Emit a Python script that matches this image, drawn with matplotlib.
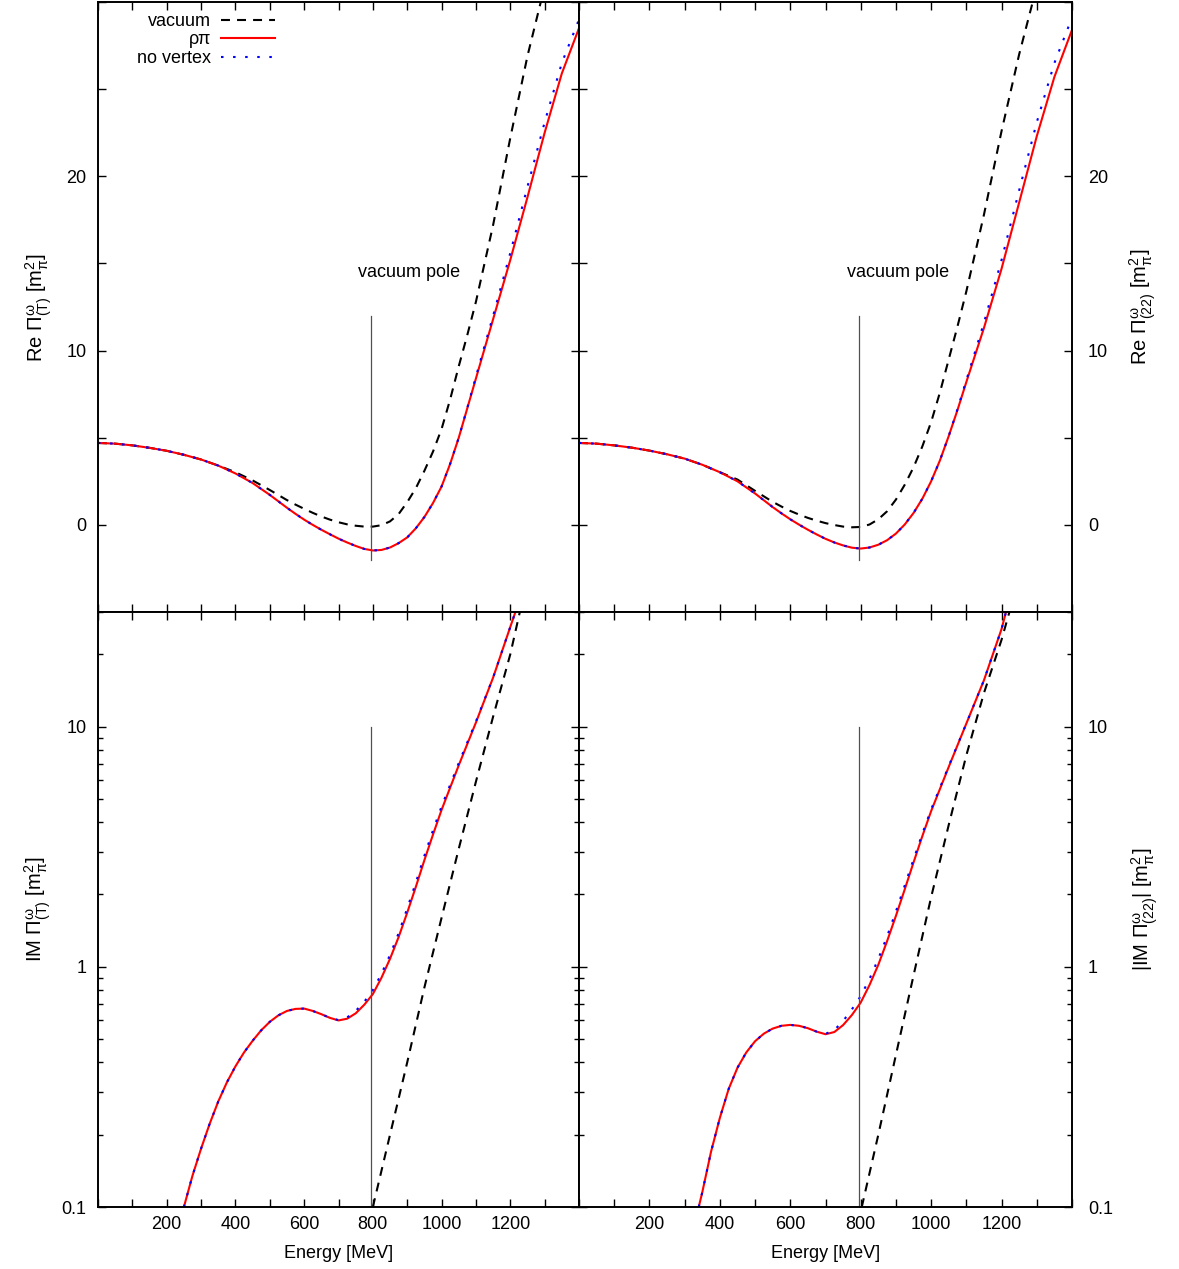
import matplotlib
matplotlib.use("Agg")
import matplotlib.pyplot as plt
from matplotlib.ticker import FixedLocator, MultipleLocator, LogLocator, NullFormatter

plt.rcParams['font.family'] = ['Liberation Sans', 'DejaVu Sans']
plt.rcParams['mathtext.fontset'] = 'custom'
plt.rcParams['mathtext.rm'] = 'Liberation Sans'
plt.rcParams['mathtext.it'] = 'Liberation Sans'
plt.rcParams['mathtext.sf'] = 'Liberation Sans'

# ---- data (energy in MeV, Pi in m_pi^2) ----
E_re = [0, 50, 100, 150, 200, 250, 300, 350, 400, 450, 500, 550, 575, 600, 625, 650, 675, 700,
        725, 750, 775, 800, 825, 850, 875, 900, 925, 950, 975, 1000, 1025, 1050, 1075, 1100,
        1150, 1200, 1250, 1300, 1350, 1400]
E_re_vac = E_re[:38]

reT_rhopi = [4.70, 4.66, 4.56, 4.42, 4.25, 4.02, 3.75, 3.40, 2.95, 2.40, 1.72, 0.98, 0.63, 0.30, 0.00, -0.28, -0.54, -0.79,
             -1.01, -1.21, -1.38, -1.47, -1.44, -1.30, -1.05, -0.72, -0.20, 0.45, 1.25, 2.20, 3.50, 5.00, 6.70, 8.40,
             11.80, 15.20, 18.80, 22.50, 25.90, 28.50]
reT_novtx = [4.70, 4.66, 4.56, 4.42, 4.25, 4.02, 3.75, 3.40, 2.95, 2.40, 1.72, 0.98, 0.63, 0.30, 0.00, -0.28, -0.54, -0.79,
             -1.01, -1.21, -1.38, -1.47, -1.44, -1.30, -1.05, -0.72, -0.20, 0.45, 1.25, 2.20, 3.50, 5.00, 6.72, 8.50,
             12.00, 15.60, 19.40, 23.10, 26.50, 29.00]
reT_vac = [4.70, 4.66, 4.56, 4.42, 4.25, 4.02, 3.75, 3.40, 3.02, 2.55, 2.00, 1.42, 1.16, 0.92, 0.69, 0.48, 0.30, 0.15,
           0.03, -0.05, -0.10, -0.10, -0.02, 0.20, 0.62, 1.30, 2.10, 3.10, 4.20, 5.50, 7.20, 9.10, 10.90, 12.80,
           17.20, 22.20, 26.90, 30.90]

re22_rhopi = [4.70, 4.66, 4.56, 4.43, 4.26, 4.05, 3.80, 3.45, 3.02, 2.50, 1.80, 1.02, 0.66, 0.32, 0.01, -0.28, -0.55, -0.80,
              -1.01, -1.18, -1.31, -1.36, -1.30, -1.14, -0.88, -0.50, 0.02, 0.68, 1.50, 2.50, 3.70, 5.10, 6.60, 8.20,
              11.30, 14.70, 18.50, 22.30, 25.70, 28.40]
re22_novtx = [4.70, 4.66, 4.56, 4.43, 4.26, 4.05, 3.80, 3.45, 3.02, 2.50, 1.80, 1.02, 0.66, 0.32, 0.01, -0.28, -0.55, -0.80,
              -1.01, -1.18, -1.31, -1.36, -1.30, -1.14, -0.88, -0.50, 0.02, 0.68, 1.50, 2.50, 3.70, 5.10, 6.65, 8.30,
              11.60, 15.20, 19.20, 23.10, 26.50, 29.10]
re22_vac = [4.70, 4.66, 4.56, 4.43, 4.26, 4.05, 3.80, 3.45, 3.02, 2.60, 1.95, 1.32, 1.05, 0.80, 0.59, 0.40, 0.24, 0.10,
            -0.01, -0.10, -0.14, -0.12, 0.02, 0.32, 0.78, 1.45, 2.30, 3.30, 4.50, 5.90, 7.60, 9.50, 11.40, 13.40,
            17.80, 22.60, 27.00, 30.90]

E_imT = [250, 275, 300, 325, 350, 375, 400, 425, 450, 475, 500, 525, 550, 575, 600, 625, 650, 675, 700, 725, 750, 775,
         800, 825, 850, 875, 900, 925, 950, 975, 1000, 1050, 1100, 1150, 1200, 1220]
imT_rhopi = [0.100, 0.135, 0.175, 0.222, 0.275, 0.330, 0.385, 0.440, 0.492, 0.544, 0.590, 0.628, 0.655, 0.668, 0.670,
             0.655, 0.635, 0.613, 0.598, 0.608, 0.640, 0.695, 0.770, 0.900, 1.08, 1.33, 1.68, 2.15, 2.78, 3.55,
             4.50, 6.90, 10.4, 16.0, 26.0, 31.5]
imT_novtx = [0.100, 0.135, 0.175, 0.222, 0.275, 0.330, 0.385, 0.440, 0.492, 0.544, 0.590, 0.628, 0.655, 0.668, 0.670,
             0.655, 0.635, 0.613, 0.600, 0.615, 0.655, 0.715, 0.800, 0.935, 1.12, 1.38, 1.75, 2.24, 2.90, 3.70,
             4.65, 7.05, 10.5, 16.0, 26.0, 31.5]
E_imT_vac = [800, 850, 900, 950, 1000, 1050, 1100, 1150, 1200, 1230]
imT_vac = [0.100, 0.20, 0.40, 0.82, 1.60, 3.10, 5.90, 11.0, 20.0, 31.0]

E_im22 = [340, 350, 375, 400, 425, 450, 475, 500, 525, 550, 575, 600, 625, 650, 675, 700, 725, 750, 775,
          800, 825, 850, 875, 900, 925, 950, 975, 1000, 1050, 1100, 1150, 1200, 1215]
im22_rhopi = [0.100, 0.115, 0.170, 0.235, 0.310, 0.380, 0.440, 0.490, 0.527, 0.553, 0.568, 0.573, 0.568, 0.555, 0.537,
              0.524, 0.535, 0.572, 0.630, 0.710, 0.840, 1.02, 1.28, 1.63, 2.10, 2.72, 3.50, 4.45, 6.80, 10.3,
              15.6, 25.5, 31.0]
im22_novtx = [0.100, 0.115, 0.170, 0.235, 0.310, 0.380, 0.440, 0.490, 0.527, 0.553, 0.568, 0.573, 0.568, 0.555, 0.537,
              0.526, 0.545, 0.595, 0.665, 0.755, 0.890, 1.08, 1.34, 1.70, 2.18, 2.80, 3.58, 4.52, 6.85, 10.3,
              15.6, 25.5, 31.0]
E_im22_vac = [803, 850, 900, 950, 1000, 1050, 1100, 1150, 1200, 1225]
im22_vac = [0.100, 0.20, 0.43, 0.92, 1.95, 3.90, 7.60, 13.8, 23.0, 31.0]

pole_E = 795
pole_re = [-2, 12]
pole_im = [0.1, 10]

xticks = [200, 400, 600, 800, 1000, 1200]

FS = 13
dash_vac = (4.3, 3.4)
dot_nv = (1.2, 4.6)

fig = plt.figure(figsize=(11.79, 12.69), dpi=100)
W, H = 1179, 1269
ax_tl = fig.add_axes([98 / W, 1 - 612 / H, 481 / W, 610 / H])
ax_tr = fig.add_axes([579 / W, 1 - 612 / H, 493 / W, 610 / H])
ax_bl = fig.add_axes([98 / W, 1 - 1207 / H, 481 / W, 595 / H])
ax_br = fig.add_axes([579 / W, 1 - 1207 / H, 493 / W, 595 / H])


def draw(ax, E, rho, nov, Ev, vac, pole):
    ax.plot(Ev, vac, color='black', lw=1.5, dashes=dash_vac, label='vacuum')
    ax.plot(E, rho, color='#ff0000', lw=1.5, label='ρπ')
    ax.plot(E, nov, color='#0000ff', lw=1.5, dashes=dot_nv, label='no vertex')
    ax.plot([pole_E, pole_E], pole, color='#505050', lw=0.9)


def style(ax, right, bottom, log):
    ax.set_xlim(0, 1400)
    ax.xaxis.set_major_locator(FixedLocator(xticks))
    ax.xaxis.set_minor_locator(MultipleLocator(100))
    if log:
        ax.set_yscale('log')
        ax.set_ylim(0.1, 30)
        ax.yaxis.set_major_locator(FixedLocator([0.1, 1, 10]))
        ax.set_yticklabels(['0.1', '1', '10'])
        ax.yaxis.set_minor_locator(LogLocator(base=10, subs=range(2, 10)))
        ax.yaxis.set_minor_formatter(NullFormatter())
    else:
        ax.set_ylim(-5, 30)
        ax.yaxis.set_major_locator(FixedLocator([0, 10, 20]))
        ax.yaxis.set_minor_locator(MultipleLocator(5))
    ax.tick_params(which='both', direction='in', top=True, bottom=True, left=True, right=True,
                   labelsize=FS, width=1.0)
    ax.tick_params(axis='x', which='both', length=6, pad=6.5, labelbottom=bottom)
    ax.tick_params(axis='y', which='major', length=6)
    ax.tick_params(axis='y', which='minor', length=3.5 if log else 6)
    if right:
        ax.tick_params(axis='y', labelleft=False, labelright=True, pad=11.5)
    else:
        ax.tick_params(axis='y', pad=8.2)
    for s in ax.spines.values():
        s.set_linewidth(1.4)
    if bottom:
        ax.set_xlabel('Energy [MeV]', fontsize=FS)
        ax.xaxis.set_label_coords(0.5, -0.064)


draw(ax_tl, E_re, reT_rhopi, reT_novtx, E_re_vac, reT_vac, pole_re)
draw(ax_tr, E_re, re22_rhopi, re22_novtx, E_re_vac, re22_vac, pole_re)
draw(ax_bl, E_imT, imT_rhopi, imT_novtx, E_imT_vac, imT_vac, pole_im)
draw(ax_br, E_im22, im22_rhopi, im22_novtx, E_im22_vac, im22_vac, pole_im)

style(ax_tl, False, False, False)
style(ax_tr, True, False, False)
style(ax_bl, False, True, True)
style(ax_br, True, True, True)

for ax in (ax_tl, ax_tr):
    ax.text(905, 14.5, 'vacuum pole', fontsize=FS, ha='center', va='center')

YFS = 14.5
ax_tl.set_ylabel(r'Re $\Pi^{\omega}_{(T)}$ [m$_{\pi}^{2}$]', fontsize=YFS)
ax_tl.yaxis.set_label_coords(-0.091, 0.5)
ax_tr.set_ylabel(r'Re $\Pi^{\omega}_{(22)}$ [m$_{\pi}^{2}$]', fontsize=YFS)
ax_tr.yaxis.set_label_position('right')
ax_tr.yaxis.set_label_coords(1.112, 0.5)
ax_bl.set_ylabel(r'IM $\Pi^{\omega}_{(T)}$ [m$_{\pi}^{2}$]', fontsize=YFS)
ax_bl.yaxis.set_label_coords(-0.094, 0.5)
ax_br.set_ylabel(r'|IM $\Pi^{\omega}_{(22)}$| [m$_{\pi}^{2}$]', fontsize=YFS)
ax_br.yaxis.set_label_position('right')
ax_br.yaxis.set_label_coords(1.116, 0.5)

ax_tl.legend(loc='upper right', bbox_to_anchor=(0.368, 0.982), frameon=False, fontsize=FS,
             markerfirst=False, handlelength=3.0, handletextpad=0.55, labelspacing=0.08,
             borderpad=0, borderaxespad=0)

fig.savefig('out.png', dpi=100)
